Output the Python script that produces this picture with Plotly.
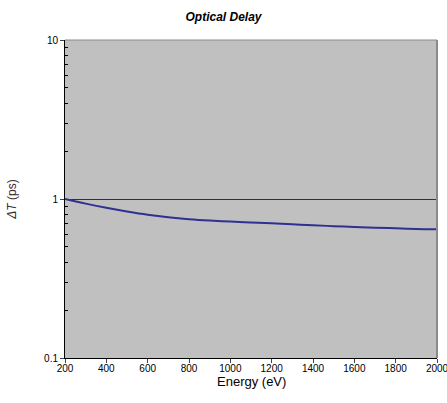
import plotly.graph_objects as go

energy_ev = [200, 300, 400, 500, 600, 700, 800, 900, 1000, 1100, 1200, 1300, 1400, 1500, 1600, 1700, 1800, 1900, 2000]
delay_ps = [1.00, 0.935, 0.88, 0.835, 0.797, 0.768, 0.747, 0.732, 0.721, 0.712, 0.703, 0.693, 0.683, 0.675, 0.667, 0.66, 0.654, 0.648, 0.645]
x_ticks = [200, 400, 600, 800, 1000, 1200, 1400, 1600, 1800, 2000]
y_ticks = [0.1, 1, 10]
y_tick_labels = ["0.1", "1", "10"]
y_minor = [0.2, 0.3, 0.4, 0.5, 0.6, 0.7, 0.8, 0.9, 2, 3, 4, 5, 6, 7, 8, 9]

fig = go.Figure()
fig.add_trace(go.Scatter(x=energy_ev, y=delay_ps, mode="lines",
                         line=dict(color="#2E3192", width=2, shape="spline"),
                         showlegend=False))

fig.update_layout(
    width=447, height=403,
    paper_bgcolor="white", plot_bgcolor="#C0C0C0",
    margin=dict(l=65, r=10, t=40, b=45, autoexpand=False),
    font=dict(family="Liberation Sans, Arial, sans-serif", size=10, color="black"),
    title=dict(text="<b><i>Optical Delay</i></b>", x=0.5, xanchor="center", y=0.958, yanchor="middle",
               font=dict(size=12, color="black")),
    showlegend=False,
)
fig.update_xaxes(range=[199.99, 2000.01], tickvals=x_ticks, ticks="outside", ticklen=4,
                 showline=True, linecolor="black", linewidth=1, mirror=False,
                 showgrid=False, zeroline=False, automargin=False,
                 ticklabeloverflow="allow", ticklabelstandoff=-3,
                 tickfont=dict(size=10))
fig.update_yaxes(type="log", range=[-1, 1], tickvals=y_ticks, ticktext=y_tick_labels,
                 ticks="outside", ticklen=4, showline=True, linecolor="black", linewidth=1,
                 showgrid=True, gridcolor="#333333", gridwidth=1, zeroline=False, automargin=False,
                 minor=dict(tickvals=y_minor, ticks="inside", ticklen=3, tickcolor="black", showgrid=False),
                 title=dict(text="<i>ΔT</i> (ps)", font=dict(size=12, color="#3a2a2a"), standoff=24),
                 tickfont=dict(size=10))
fig.add_annotation(text="Energy (eV)", xref="paper", yref="paper", x=0.5, y=-0.075,
                   xanchor="center", yanchor="middle", showarrow=False, font=dict(size=13))
# gray border on top and right
fig.add_shape(type="line", xref="paper", yref="paper", x0=0, x1=1, y0=1, y1=1,
              line=dict(color="#8a8a8a", width=1))
fig.add_shape(type="line", xref="paper", yref="paper", x0=1, x1=1, y0=0, y1=1,
              line=dict(color="#8a8a8a", width=2))

fig.write_html("out.html", config={"displayModeBar": False},
               post_script="document.body.style.margin='0';document.body.style.overflow='hidden';")
